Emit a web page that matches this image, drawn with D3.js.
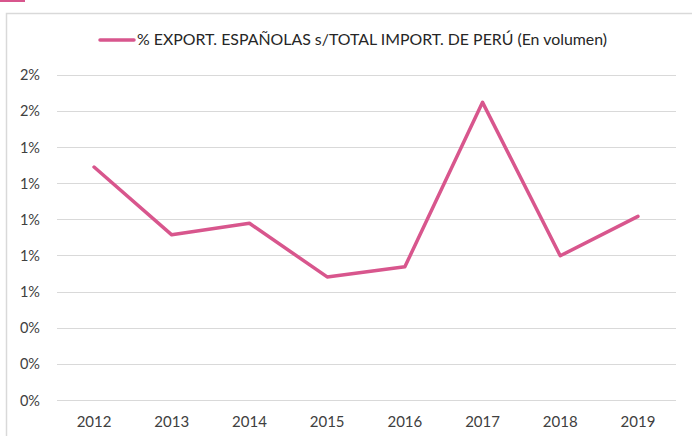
<!DOCTYPE html>
<html><head><meta charset="utf-8">
<script src="https://cdn.jsdelivr.net/npm/d3@7"></script>
<style>body{margin:0;background:#fff;}svg{display:block;}</style>
</head><body>
<script>
const years = ["2012","2013","2014","2015","2016","2017","2018","2019"];
const values = [0.01289, 0.00914, 0.00978, 0.00681, 0.00737, 0.01647, 0.00798, 0.01016];
const yTicks = [0, 0.002, 0.004, 0.006, 0.008, 0.010, 0.012, 0.014, 0.016, 0.018];
const seriesName = "% EXPORT. ESPAÑOLAS s/TOTAL IMPORT. DE PERÚ (En volumen)";

const W = 692, H = 436;
const color = "#d8568d";
const font = "Lato, 'Open Sans', sans-serif";
const svg = d3.select("body").append("svg").attr("width", W).attr("height", H);

// decorative fragment and frame
svg.append("rect").attr("x",0).attr("y",0).attr("width",25).attr("height",2).attr("fill",color);
svg.append("path").attr("d","M6.5,440 V13.5 H700").attr("fill","none").attr("stroke","#d9d9d9").attr("stroke-width",1.5);

const x = d3.scaleBand().domain(years).range([55.2, 676.8]);
const y = d3.scaleLinear().domain([0, 0.018]).range([400, 74.7]);

// gridlines
svg.append("g").selectAll("line").data(yTicks).join("line")
  .attr("x1",57).attr("x2",676)
  .attr("y1",d=>Math.round(y(d))+0.5).attr("y2",d=>Math.round(y(d))+0.5)
  .attr("stroke","#d9d9d9").attr("stroke-width",1.2);

// y axis labels
const yAxis = d3.axisLeft(y).tickValues(yTicks).tickFormat(d3.format(".0%")).tickSize(0).tickPadding(0);
const gy = svg.append("g").attr("transform","translate(40,0)").call(yAxis);
gy.select(".domain").remove();
gy.selectAll("text").attr("font-family",font).attr("font-size",14.5).attr("fill","#404040").attr("dy","0.35em");

// x axis labels
const xAxis = d3.axisBottom(x).tickSize(0).tickPadding(0);
const gx = svg.append("g").attr("transform","translate(0,416)").call(xAxis);
gx.select(".domain").remove();
gx.selectAll("text").attr("font-family",font).attr("font-size",15).attr("fill","#404040").attr("dy","0.71em");

// line
const line = d3.line().x((d,i)=>x(years[i])+x.bandwidth()/2).y(d=>y(d));
svg.append("path").datum(values).attr("d",line).attr("fill","none")
  .attr("stroke",color).attr("stroke-width",3.5).attr("stroke-linejoin","round").attr("stroke-linecap","round");

// legend
svg.append("line").attr("x1",100).attr("x2",134).attr("y1",40).attr("y2",40)
  .attr("stroke",color).attr("stroke-width",3.5).attr("stroke-linecap","round");
svg.append("text").attr("x",137).attr("y",40).attr("dy","0.35em")
  .attr("font-family",font).attr("font-size",15).attr("fill","#262626")
  .attr("textLength",470).attr("lengthAdjust","spacingAndGlyphs")
  .text(seriesName);
</script>
</body></html>
